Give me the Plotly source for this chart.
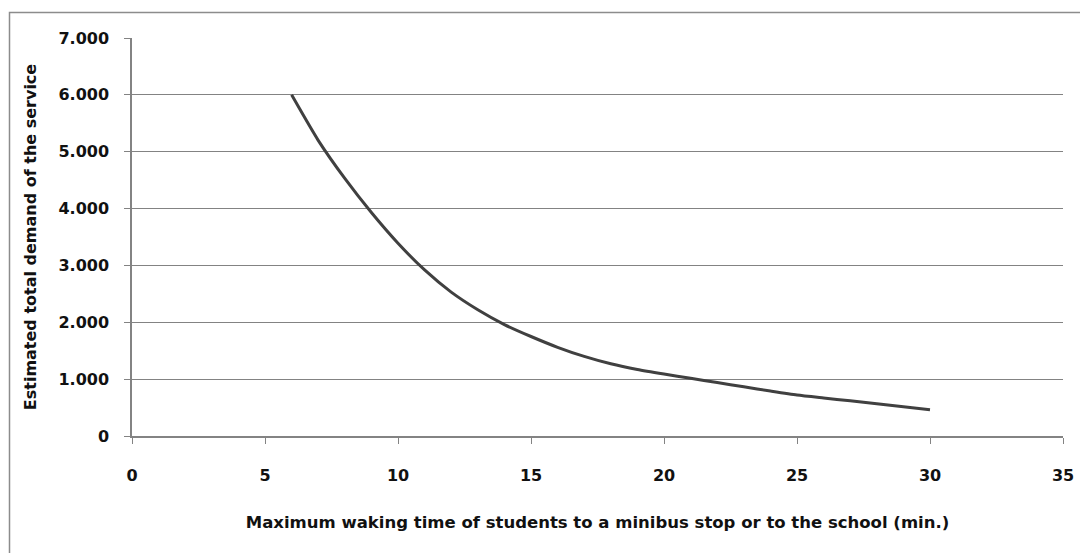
import plotly.graph_objects as go

# Data
minutes = [6, 7, 8, 9, 10, 11, 12, 13, 14, 15, 16, 17, 18, 19, 20,
           21, 22, 23, 24, 25, 26, 27, 28, 29, 30]
demand = [6000, 5200, 4530, 3930, 3390, 2920, 2530, 2220, 1960, 1750, 1560,
          1400, 1270, 1170, 1090, 1015, 940, 865, 790, 720, 668, 618, 566, 514, 460]

x_ticks = [0, 5, 10, 15, 20, 25, 30, 35]
y_ticks = [0, 1000, 2000, 3000, 4000, 5000, 6000, 7000]

x_title = "Maximum waking time of students to a minibus stop or to the school (min.)"
y_title = "Estimated total demand of the service"

FONT = "DejaVu Sans"
GRAY = "#838383"
TXT = "#111111"

fig = go.Figure()
fig.add_trace(go.Scatter(
    x=minutes, y=demand, mode="lines",
    line=dict(color="#404040", width=3, shape="spline", smoothing=0.6),
    showlegend=False, hoverinfo="x+y",
))

# page has an 8px body margin, so the figure is drawn 8px in from the corner
W, H = 1080, 545
L, T = 124, 30
R = W - 1055
B = H - 428
pw, ph = W - L - R, H - T - B

fig.update_layout(
    width=W, height=H,
    margin=dict(l=L, r=R, t=T, b=B),
    paper_bgcolor="white", plot_bgcolor="white",
    separators=",.",
    font=dict(family=FONT, color=TXT),
    xaxis=dict(
        range=[0, 35], tickvals=x_ticks, showgrid=False, zeroline=False,
        showline=True, linecolor=GRAY, linewidth=1.5,
        ticks="outside", ticklen=6, tickcolor=GRAY, tickwidth=1,
        tickfont=dict(family=FONT, size=16, color=TXT, weight="bold"),
        ticklabelstandoff=18,
        title=dict(text=x_title, font=dict(family=FONT, size=16.5, color=TXT, weight="bold"), standoff=32),
    ),
    yaxis=dict(
        range=[0, 7000], tickvals=y_ticks, tickformat=",d",
        showgrid=True, gridcolor=GRAY, gridwidth=1.2, zeroline=False,
        showline=True, linecolor=GRAY, linewidth=1.5,
        ticks="outside", ticklen=6, tickcolor=GRAY, tickwidth=1,
        tickfont=dict(family=FONT, size=16, color=TXT, weight="bold"),
        ticklabelstandoff=12,
        title=dict(text=y_title, font=dict(family=FONT, size=16, color=TXT, weight="bold"), standoff=18),
    ),
)

# Chart-area border (top and left visible in the reference)
fig.add_shape(
    type="rect", xref="paper", yref="paper",
    x0=(1.5 - L) / pw, x1=(W + 10 - L) / pw,
    y0=(T + ph - (H + 10)) / ph, y1=(T + ph - 4.5) / ph,
    line=dict(color="#8c8c8c", width=1.5), fillcolor="rgba(0,0,0,0)", layer="below",
)

fig.write_html("out.html")
